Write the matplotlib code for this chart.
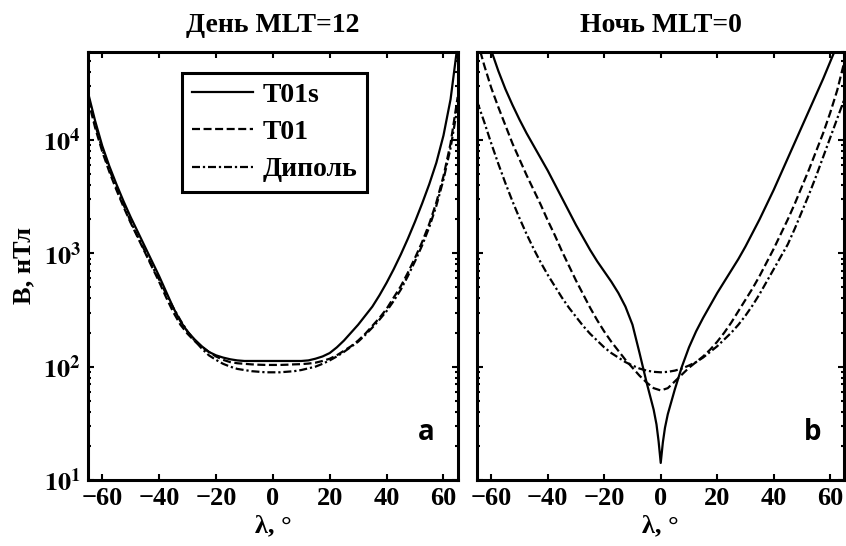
import matplotlib
matplotlib.use("Agg")
import matplotlib.pyplot as plt
import numpy as np
from matplotlib.ticker import FixedLocator, LogLocator, NullFormatter

plt.rcParams['font.family'] = ['Liberation Serif', 'DejaVu Serif']
plt.rcParams['font.weight'] = 'bold'
plt.rcParams['mathtext.fontset'] = 'stix'

# latitude grid (deg), 2.5 deg step
lat = [-65, -62.5, -60, -57.5, -55, -52.5, -50, -47.5, -45, -42.5, -40, -37.5, -35,
       -32.5, -30, -27.5, -25, -22.5, -20, -17.5, -15, -12.5, -10, -7.5, -5, -2.5, 0,
       2.5, 5, 7.5, 10, 12.5, 15, 17.5, 20, 22.5, 25, 27.5, 30, 32.5, 35, 37.5, 40,
       42.5, 45, 47.5, 50, 52.5, 55, 57.5, 60, 62.5, 65]

# values as log10(B / nT)
# day side, MLT=12
day_t01s = [4.42, 4.17, 3.95, 3.77, 3.61, 3.46, 3.32, 3.19, 3.06, 2.93, 2.80, 2.66, 2.52,
            2.40, 2.31, 2.24, 2.18, 2.13, 2.10, 2.08, 2.065, 2.055, 2.05, 2.05, 2.05, 2.05, 2.05,
            2.05, 2.05, 2.05, 2.05, 2.055, 2.07, 2.09, 2.12, 2.17, 2.23, 2.30, 2.37, 2.45, 2.53,
            2.63, 2.74, 2.86, 2.99, 3.13, 3.28, 3.44, 3.61, 3.80, 4.04, 4.36, 4.85]
day_t01 = [4.36, 4.11, 3.90, 3.72, 3.56, 3.41, 3.27, 3.14, 3.01, 2.88, 2.75, 2.61, 2.48,
           2.37, 2.29, 2.225, 2.175, 2.13, 2.09, 2.06, 2.04, 2.03, 2.025, 2.02, 2.017, 2.015, 2.015,
           2.015, 2.017, 2.02, 2.022, 2.027, 2.035, 2.05, 2.07, 2.10, 2.14, 2.18, 2.23, 2.29, 2.36,
           2.43, 2.51, 2.61, 2.71, 2.83, 2.96, 3.10, 3.26, 3.45, 3.68, 3.97, 4.38]
day_dip = [4.40, 4.14, 3.92, 3.74, 3.58, 3.43, 3.28, 3.15, 3.02, 2.89, 2.77, 2.64, 2.52,
           2.41, 2.31, 2.23, 2.16, 2.10, 2.06, 2.025, 2.0, 1.98, 1.97, 1.96, 1.955, 1.95, 1.95,
           1.95, 1.955, 1.96, 1.97, 1.985, 2.0, 2.025, 2.055, 2.09, 2.13, 2.175, 2.22, 2.28, 2.345,
           2.415, 2.49, 2.58, 2.68, 2.80, 2.93, 3.07, 3.23, 3.42, 3.65, 3.93, 4.30]

# night side, MLT=0
night_t01 = [4.88, 4.66, 4.46, 4.29, 4.13, 3.97, 3.83, 3.69, 3.56, 3.43, 3.29, 3.16, 3.02,
             2.89, 2.76, 2.64, 2.52, 2.41, 2.31, 2.22, 2.14, 2.06, 1.99, 1.92, 1.86, 1.81, 1.79,
             1.81, 1.87, 1.93, 1.99, 2.04, 2.09, 2.15, 2.22, 2.30, 2.39, 2.49, 2.59, 2.69, 2.80,
             2.92, 3.04, 3.17, 3.30, 3.44, 3.59, 3.74, 3.90, 4.06, 4.24, 4.44, 4.69]
night_dip = [4.34, 4.16, 3.97, 3.79, 3.62, 3.46, 3.31, 3.17, 3.04, 2.92, 2.81, 2.71, 2.61,
             2.52, 2.44, 2.36, 2.29, 2.23, 2.17, 2.12, 2.08, 2.04, 2.01, 1.983, 1.965, 1.954, 1.95,
             1.954, 1.965, 1.983, 2.01, 2.04, 2.08, 2.13, 2.18, 2.24, 2.30, 2.37, 2.45, 2.54, 2.64,
             2.75, 2.86, 2.97, 3.08, 3.22, 3.37, 3.52, 3.68, 3.85, 4.02, 4.19, 4.36]

# T01s at night has a sharp dip at the equator, read on a finer grid there
lat_s = [-65, -62.5, -60, -57.5, -55, -52.5, -50, -47.5, -45, -42.5, -40, -37.5, -35,
         -32.5, -30, -27.5, -25, -22.5, -20, -17.5, -15, -12.5, -10, -7.5, -5, -2.5,
         -1.5, -0.75, 0, 0.75, 1.5, 2.5, 5, 7.5, 10, 12.5, 15, 17.5, 20, 22.5, 25, 27.5,
         30, 32.5, 35, 37.5, 40, 42.5, 45, 47.5, 50, 52.5, 55, 57.5, 60, 62.5, 65]
night_t01s = [5.2, 4.99, 4.79, 4.61, 4.45, 4.31, 4.18, 4.06, 3.95, 3.84, 3.73, 3.61, 3.49,
              3.37, 3.25, 3.14, 3.03, 2.93, 2.84, 2.75, 2.65, 2.53, 2.37, 2.12, 1.86, 1.62,
              1.49, 1.34, 1.15, 1.33, 1.46, 1.58, 1.80, 2.0, 2.17, 2.31, 2.43, 2.54, 2.65, 2.75,
              2.85, 2.95, 3.06, 3.18, 3.30, 3.43, 3.56, 3.70, 3.84, 3.98, 4.12, 4.26, 4.40,
              4.54, 4.69, 4.84, 5.0]

fig = plt.figure(figsize=(8.46, 5.46), dpi=100)
ax1 = fig.add_axes([0.104, 0.121, 0.437, 0.784])
ax2 = fig.add_axes([0.564, 0.121, 0.434, 0.784])

lw = 1.6
dash = (0, (3.6, 1.6))
dashdot = (0, (3.6, 1.3, 1.0, 1.3))

ax1.plot(lat, 10 ** np.array(day_t01s), color='black', lw=lw, ls='-', label='T01s')
ax1.plot(lat, 10 ** np.array(day_t01), color='black', lw=lw, ls=dash, label='T01')
ax1.plot(lat, 10 ** np.array(day_dip), color='black', lw=lw, ls=dashdot, label='Диполь')

ax2.plot(lat_s, 10 ** np.array(night_t01s), color='black', lw=lw, ls='-')
ax2.plot(lat, 10 ** np.array(night_t01), color='black', lw=lw, ls=dash)
ax2.plot(lat, 10 ** np.array(night_dip), color='black', lw=lw, ls=dashdot)

for ax in (ax1, ax2):
    ax.set_yscale('log')
    ax.set_ylim(10, 6e4)
    ax.set_xlim(-65, 65)
    ax.xaxis.set_major_locator(FixedLocator([-60, -40, -20, 0, 20, 40, 60]))
    ax.yaxis.set_major_locator(FixedLocator([10, 100, 1000, 10000]))
    ax.yaxis.set_minor_locator(LogLocator(base=10, subs=range(2, 10)))
    ax.yaxis.set_minor_formatter(NullFormatter())
    ax.tick_params(which='both', direction='in', top=True, right=True, width=1.5)
    ax.tick_params(which='major', length=4, labelsize=19, pad=5)
    ax.tick_params(which='minor', length=2)
    for s in ax.spines.values():
        s.set_linewidth(2.2)
    ax.set_xlabel('λ, °', fontsize=19, fontweight='bold', labelpad=3)
    for lab in ax.get_xticklabels():
        lab.set_fontweight('bold')

ax1.set_yticklabels([r'$\mathbf{10^{1}}$', r'$\mathbf{10^{2}}$',
                     r'$\mathbf{10^{3}}$', r'$\mathbf{10^{4}}$'])
ax2.tick_params(labelleft=False)

ax1.set_ylabel('B, нТл', fontsize=19, fontweight='bold', labelpad=6)
ax1.set_title('День MLT=12', fontsize=20, fontweight='bold', pad=14)
ax2.set_title('Ночь MLT=0', fontsize=20, fontweight='bold', pad=14)

ax1.text(0.916, 0.11, 'a', transform=ax1.transAxes, fontsize=20, fontweight='bold',
         family='Open Sans', ha='center', va='center')
ax2.text(0.915, 0.11, 'b', transform=ax2.transAxes, fontsize=20, fontweight='bold',
         family='Open Sans', ha='center', va='center')

leg = ax1.legend(loc='upper left', bbox_to_anchor=(0.254, 0.951), borderaxespad=0,
                 frameon=True, fancybox=False, edgecolor='black',
                 handlelength=2.2, handletextpad=0.35, labelspacing=0.42,
                 borderpad=0.35, prop={'weight': 'bold', 'size': 20})
leg.get_frame().set_linewidth(2.2)
leg.get_frame().set_alpha(1)

fig.savefig('out.png', dpi=100)
